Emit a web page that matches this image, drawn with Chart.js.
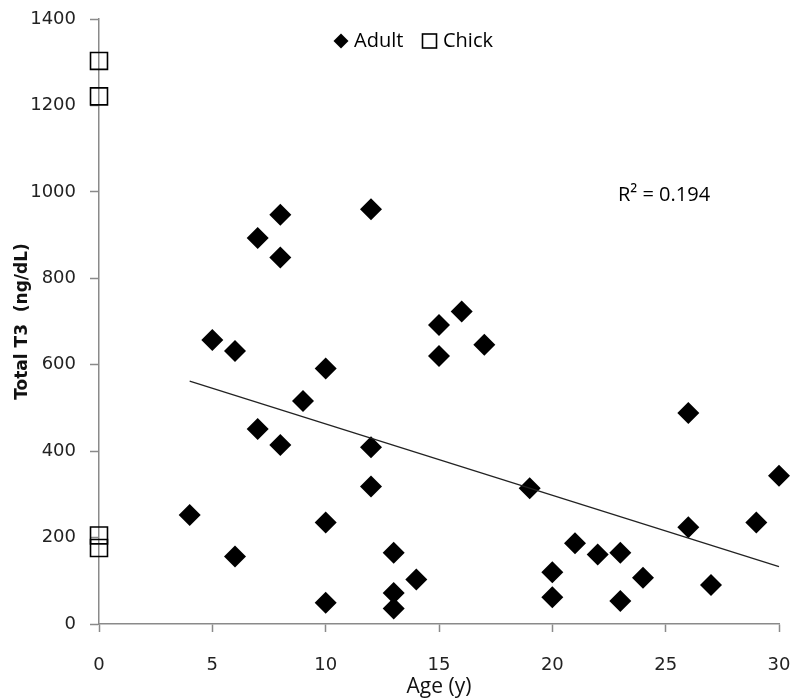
<!DOCTYPE html>
<html lang="en">
<head>
    <meta charset="UTF-8">
    <title>Total T3 vs Age</title>
    <script src="https://cdn.jsdelivr.net/npm/chart.js"></script>
    <style>
        html, body { margin: 0; padding: 0; background: #fff; }
        #wrap { width: 793px; height: 698px; position: relative; }
    </style>
</head>
<body>
    <div id="wrap">
        <canvas id="t3Chart" width="793" height="698"></canvas>
    </div>

    <script>
        // Adult ages (y) and Total T3 (ng/dL)
        const adultAge = [4, 5, 6, 6, 7, 7, 8, 8, 8, 9, 10, 10, 10, 12, 12, 12, 13, 13, 13, 14,
                          15, 15, 16, 17, 19, 20, 20, 21, 22, 23, 23, 24, 26, 26, 27, 29, 30];
        const adultT3 = [252, 657, 632, 156, 451, 893, 947, 848, 414, 516, 591, 235, 49, 960, 409, 318, 165, 72, 36, 103,
                         692, 620, 723, 646, 314, 120, 62, 187, 161, 165, 53, 107, 488, 224, 90, 235, 343];

        // Chicks plotted at age 0
        const chickAge = [0, 0, 0, 0];
        const chickT3 = [1303, 1221, 205, 176];

        // Linear trend line (adults), end points
        const trendAge = [4, 30];
        const trendT3 = [562, 133];

        const rSquared = "R\u00B2 = 0.194";

        const toPoints = (xs, ys) => xs.map((x, i) => ({ x: x, y: ys[i] }));

        // legend + R² label drawn inside the plot area
        const overlay = {
            id: "overlay",
            afterDraw(chart) {
                const ctx = chart.ctx;
                ctx.save();
                ctx.fillStyle = "#000";
                ctx.font = "20px 'Open Sans'";
                ctx.textBaseline = "middle";

                // diamond marker
                ctx.beginPath();
                ctx.moveTo(341 - 7.5, 41);
                ctx.lineTo(341, 41 - 7.5);
                ctx.lineTo(341 + 7.5, 41);
                ctx.lineTo(341, 41 + 7.5);
                ctx.closePath();
                ctx.fill();
                ctx.fillText("Adult", 354, 41);

                // square marker
                ctx.lineWidth = 1.6;
                ctx.strokeStyle = "#000";
                ctx.strokeRect(422.5, 34, 14, 14);
                ctx.fillText("Chick", 443, 41);

                ctx.fillText(rSquared, 618, 195);
                ctx.restore();
            }
        };

        const ctx = document.getElementById("t3Chart").getContext("2d");
        new Chart(ctx, {
            type: "scatter",
            data: {
                datasets: [
                    {
                        label: "Trend",
                        type: "line",
                        data: toPoints(trendAge, trendT3),
                        borderColor: "#222",
                        borderWidth: 1.3,
                        pointRadius: 0,
                        fill: false
                    },
                    {
                        label: "Adult",
                        data: toPoints(adultAge, adultT3),
                        pointStyle: "rectRot",
                        pointRadius: 11,
                        pointHoverRadius: 11,
                        backgroundColor: "#000",
                        borderColor: "#000",
                        borderWidth: 0
                    },
                    {
                        label: "Chick",
                        data: toPoints(chickAge, chickT3),
                        pointStyle: "rect",
                        pointRadius: 12,
                        pointHoverRadius: 12,
                        backgroundColor: "rgba(255,255,255,0)",
                        borderColor: "#000",
                        borderWidth: 1.6
                    }
                ]
            },
            options: {
                responsive: false,
                animation: false,
                clip: false,
                layout: { padding: { left: 0, right: 14, top: 19, bottom: 0 } },
                plugins: {
                    legend: { display: false },
                    tooltip: { enabled: false }
                },
                scales: {
                    x: {
                        type: "linear",
                        min: 0,
                        max: 30,
                        afterFit(scale) {
                            scale.height = 74;
                            scale.paddingLeft = 0;
                            scale.paddingRight = 0;
                        },
                        border: { color: "#8a8a8a", width: 1.5 },
                        grid: { drawOnChartArea: false, tickLength: 8, tickColor: "#8a8a8a", tickWidth: 1.5 },
                        ticks: {
                            stepSize: 5, padding: 23, color: "#222",
                            font: { family: "'DejaVu Sans'", size: 18 },
                            callback: (v) => String(v)
                        },
                        title: {
                            display: true,
                            text: "Age (y)",
                            color: "#111",
                            padding: { top: 0, bottom: -2 },
                            font: { family: "'Open Sans'", size: 21 }
                        }
                    },
                    y: {
                        min: 0,
                        max: 1400,
                        afterFit(scale) {
                            scale.width = 99;
                            scale.paddingTop = 0;
                            scale.paddingBottom = 0;
                        },
                        border: { color: "#8a8a8a", width: 1.5 },
                        grid: { drawOnChartArea: false, tickLength: 9, tickColor: "#8a8a8a", tickWidth: 1.5 },
                        ticks: {
                            stepSize: 200, padding: 14, color: "#222",
                            font: { family: "'DejaVu Sans'", size: 18 },
                            callback: (v) => String(v)
                        },
                        title: {
                            display: true,
                            text: "Total T3  (ng/dL)",
                            color: "#111",
                            padding: { top: 12, bottom: 0 },
                            font: { family: "'DejaVu Sans'", size: 17, weight: "bold" }
                        }
                    }
                }
            },
            plugins: [overlay]
        });
    </script>
</body>
</html>
